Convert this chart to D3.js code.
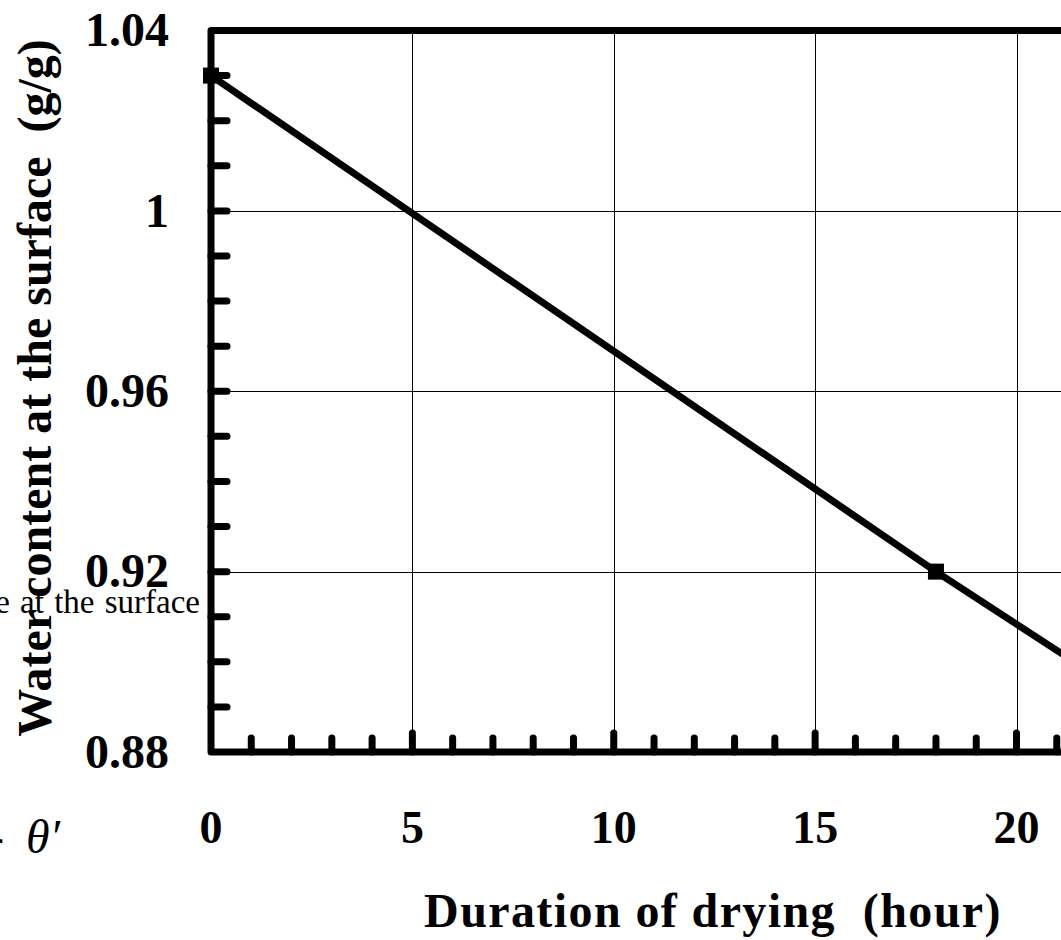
<!DOCTYPE html>
<html>
<head>
<meta charset="utf-8">
<script src="https://cdn.jsdelivr.net/npm/d3@7"></script>
<style>
  html, body { margin: 0; padding: 0; background: #fff; overflow: hidden; }
  svg text { font-family: "Liberation Serif", "Times New Roman", serif; white-space: pre; }
</style>
</head>
<body>
<svg id="chart" width="1061" height="940"></svg>
<script>
// data
var lineHours = [0, 18, 22];            // fitted line (runs past the right edge)
var lineWater = [1.03, 0.92, 0.8967];
var markHours = [0, 18];                // measured points
var markWater = [1.03, 0.92];
var xTickVals = [0, 5, 10, 15, 20];
var yTickVals = [0.88, 0.92, 0.96, 1, 1.04];
var xTitle = "Duration of drying  (hour)";
var yTitle = "Water content at the surface  (g/g)";

var svg = d3.select("#chart");

var x = d3.scaleLinear().domain([0, 20]).range([211, 1016.5]); // plot carries on off-screen
var y = d3.scaleLinear().domain([0.88, 1.04]).range([752, 30.5]);

// careful: "top" is taken by window.top
var plotLeft = x(0), plotBottom = y(0.88), plotTop = y(1.04), plotRight = x(25);

// thin grid lines
var grid = svg.append("g").attr("stroke", "#000").attr("stroke-width", 1).attr("shape-rendering", "crispEdges");
grid.selectAll(".gx").data(xTickVals.filter(d => d > 0).concat([25])).join("line")
  .attr("x1", d => Math.round(x(d)) + 0.5).attr("x2", d => Math.round(x(d)) + 0.5)
  .attr("y1", plotTop).attr("y2", plotBottom);
grid.selectAll(".gy").data(yTickVals.filter(d => d > 0.88 && d < 1.04)).join("line")
  .attr("y1", d => Math.round(y(d)) + 0.5).attr("y2", d => Math.round(y(d)) + 0.5)
  .attr("x1", plotLeft).attr("x2", plotRight);

// minor + major ticks, pointing inwards
var ticks = svg.append("g").attr("stroke", "#000").attr("stroke-width", 7).attr("stroke-linecap", "round");
ticks.selectAll(".ty").data(d3.range(0.89, 1.035, 0.01)).join("line")
  .attr("x1", plotLeft).attr("x2", plotLeft + 16)
  .attr("y1", d => y(d)).attr("y2", d => y(d));
ticks.selectAll(".tx").data(d3.range(1, 26, 1)).join("line")
  .attr("y1", plotBottom).attr("y2", d => d % 5 === 0 ? plotBottom - 19 : plotBottom - 14)
  .attr("x1", d => x(d)).attr("x2", d => x(d));

// thick frame (left, bottom, top)
svg.append("path")
  .attr("d", d3.line()([[plotRight, plotBottom], [plotLeft, plotBottom], [plotLeft, plotTop], [plotRight, plotTop]]))
  .attr("fill", "none").attr("stroke", "#000").attr("stroke-width", 7)
  .attr("stroke-linejoin", "round");

// the line
var pts = lineHours.map((h, i) => [x(h), y(lineWater[i])]);
svg.append("path")
  .attr("d", d3.line()(pts))
  .attr("fill", "none").attr("stroke", "#000").attr("stroke-width", 7);

// square markers
svg.selectAll(".mk").data(markHours).join("rect")
  .attr("x", d => x(d) - 8).attr("y", (d, i) => y(markWater[i]) - 8)
  .attr("width", 16).attr("height", 16).attr("fill", "#000");

// tick labels
svg.selectAll(".ly").data(yTickVals).join("text")
  .attr("x", 169).attr("y", d => y(d)).attr("dy", "0.33em")
  .attr("text-anchor", "end").attr("font-size", 48).attr("font-weight", "bold")
  .text(d => +d.toFixed(2));
svg.selectAll(".lx").data(xTickVals).join("text")
  .attr("x", d => x(d)).attr("y", 843)
  .attr("text-anchor", "middle").attr("font-size", 46).attr("font-weight", "bold")
  .text(d => d);

// axis titles
svg.append("text")
  .attr("transform", "translate(51,388) rotate(-90)")
  .attr("text-anchor", "middle").attr("font-size", 48).attr("font-weight", "bold")
  .text(yTitle);
svg.append("text")
  .attr("x", 713).attr("y", 927)
  .attr("text-anchor", "middle").attr("font-size", 48).attr("font-weight", "bold")
  .attr("letter-spacing", 1.4)
  .text(xTitle);

// stray leftovers at the left edge
svg.append("text")
  .attr("x", 200).attr("y", 613).attr("text-anchor", "end")
  .attr("font-size", 33).attr("word-spacing", 2)
  .text("e at the surface");
svg.append("text")
  .attr("x", -12).attr("y", 853).attr("font-size", 48)
  .text("-");
svg.append("text")
  .attr("x", 26).attr("y", 853).attr("font-size", 48).attr("font-style", "italic")
  .text("\u03b8\u2032");
</script>
</body>
</html>
